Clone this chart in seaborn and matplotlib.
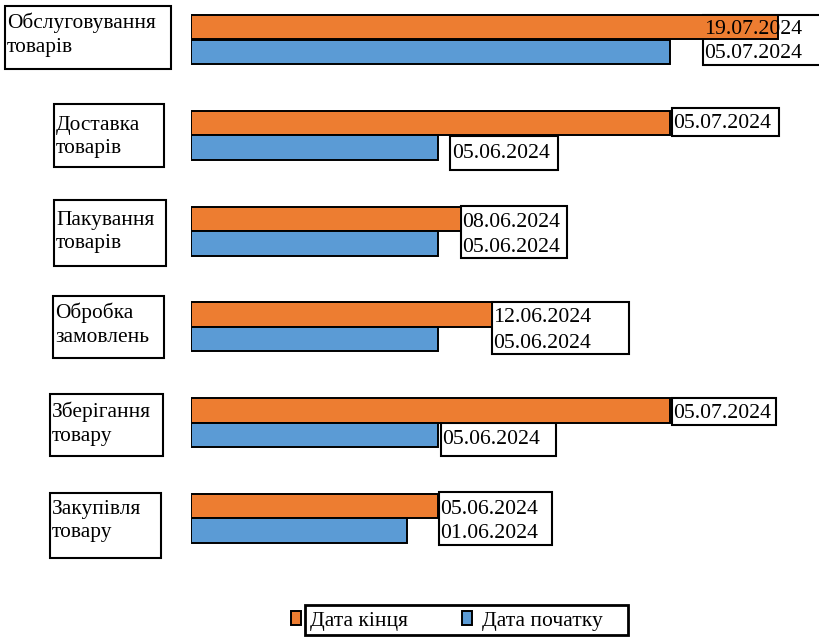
import pandas as pd
import numpy as np
import seaborn as sns
import matplotlib
matplotlib.use("Agg")
import matplotlib.pyplot as plt
from matplotlib.patches import Rectangle, Patch
from datetime import datetime

# ---------------- data ----------------
tasks = ["Обслуговування\nтоварів", "Доставка\nтоварів", "Пакування\nтоварів",
         "Обробка\nзамовлень", "Зберігання\nтовару", "Закупівля\nтовару"]
start_dates = ["05.07.2024", "05.06.2024", "05.06.2024", "05.06.2024", "05.06.2024", "01.06.2024"]
end_dates = ["19.07.2024", "05.07.2024", "08.06.2024", "12.06.2024", "05.07.2024", "05.06.2024"]
series_names = ["Дата кінця", "Дата початку"]
axis_min_date = "04.05.2024"

colors = {"Дата кінця": "#ED7D31", "Дата початку": "#5B9BD5"}

def to_dt(s):
    return datetime.strptime(s, "%d.%m.%Y")

base = to_dt(axis_min_date)
rows = []
for t, s, e in zip(tasks, start_dates, end_dates):
    rows.append({"task": t, "series": "Дата кінця", "days": (to_dt(e) - base).days, "label": e})
    rows.append({"task": t, "series": "Дата початку", "days": (to_dt(s) - base).days, "label": s})
df = pd.DataFrame(rows)

# ---------------- figure ----------------
W, H = 820, 637
sns.set_theme(style="white")
plt.rcParams["font.family"] = ["Liberation Serif", "DejaVu Serif"]
plt.rcParams["text.color"] = "black"
FS = 15.7

fig = plt.figure(figsize=(W / 100, H / 100), dpi=100)

def fx(x):
    return x / W

def fy(y):
    return 1 - y / H

px_per_day = 7.72
ax_left, ax_right = 191, 820
center_top, center_bot = 39.5, 518.5
step = (center_bot - center_top) / (len(tasks) - 1)
top_px = center_top - step / 2
bot_px = center_bot + step / 2
ax = fig.add_axes([fx(ax_left), fy(bot_px), (ax_right - ax_left) / W, (bot_px - top_px) / H])

sns.barplot(data=df, x="days", y="task", hue="series", hue_order=series_names,
            order=tasks, palette=colors, saturation=1, orient="h", width=0.512,
            edgecolor="black", linewidth=1.4, errorbar=None, legend=False, ax=ax)
ax.set_xlim(0, (ax_right - ax_left) / px_per_day)
ax.set_ylim(len(tasks) - 0.5, -0.5)
ax.set_axis_off()

# ---------------- category label boxes ----------------
cat_boxes = [(5, 171, 6, 69), (54, 164, 104, 167), (54, 166, 200, 266),
             (53, 164, 296, 358), (50, 163, 394, 456), (50, 161, 493, 558)]
cat_text = [(7, 35), (56, 137), (56, 232), (55, 325), (52, 424), (52, 521)]

def add_box(x0, x1, y0, y1, lw=1.5, z=0.5):
    r = Rectangle((fx(x0), fy(y1)), (x1 - x0) / W, (y1 - y0) / H,
                  transform=fig.transFigure, facecolor="white", edgecolor="black",
                  linewidth=lw, clip_on=False, zorder=z)
    ax.add_patch(r)

for (x0, x1, y0, y1), (tx, ty), name in zip(cat_boxes, cat_text, tasks):
    add_box(x0, x1, y0, y1)
    ax.text(fx(tx), fy(ty), name, transform=fig.transFigure, ha="left", va="center",
            fontsize=15.4, color="black", linespacing=1.34, zorder=5, clip_on=False)

# ---------------- value label boxes ----------------
value_boxes = [(703, 835, 15, 65), (672, 779, 108, 136), (450, 558, 136, 170),
               (461, 567, 206, 258), (492, 629, 302, 354), (672, 776, 398, 425),
               (441, 556, 423, 456), (439, 552, 492, 545)]
end_pos = [(704, 29), (673, 124), (462, 222), (493, 318), (673, 413), (440, 509)]
start_pos = [(704, 54), (452, 154), (462, 247), (493, 343), (442, 440), (440, 534)]

for b in value_boxes:
    add_box(*b, lw=1.5, z=0.5)

for i in range(len(tasks)):
    for pos, lab in ((end_pos[i], end_dates[i]), (start_pos[i], start_dates[i])):
        ax.text(fx(pos[0]), fy(pos[1]), lab, transform=fig.transFigure, ha="left",
                va="center", fontsize=FS, color="black", zorder=5, clip_on=False)

# ---------------- legend ----------------
handles = [Patch(facecolor=colors[s], edgecolor="black", linewidth=1.4, label=s)
           for s in series_names]
leg = ax.legend(handles=handles, loc="center left", bbox_to_anchor=(fx(291), fy(621)),
                bbox_transform=fig.transFigure, ncol=2, frameon=False, fontsize=15.5,
                handlelength=0.45, handleheight=0.65, handletextpad=0.45,
                columnspacing=2.5, borderpad=0, borderaxespad=0, labelcolor="black")
add_box(305, 628, 605, 635, lw=2, z=0.4)

fig.savefig("out.png", dpi=100)
